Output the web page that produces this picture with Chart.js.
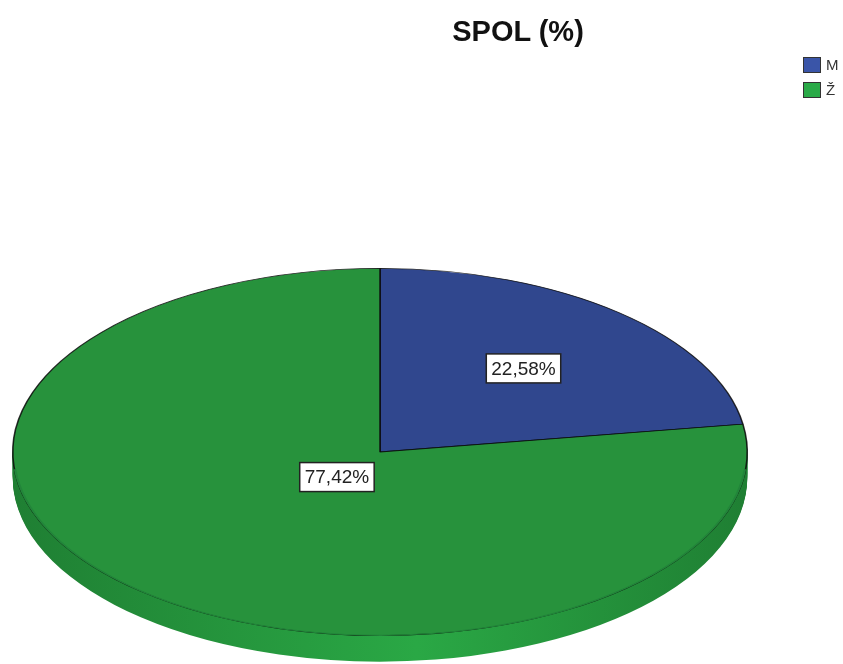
<!DOCTYPE html>
<html>
<head>
<meta charset="utf-8">
<script src="https://cdn.jsdelivr.net/npm/chart.js@4"></script>
<style>
  body { margin: 0; background: #fff; }
  #wrap { position: relative; width: 843px; height: 664px; overflow: hidden; }
  #title {
    position: absolute; left: 418px; width: 200px; top: 17px; text-align: center;
    font: bold 29px "Liberation Sans", Arial, sans-serif; line-height: 29px; color: #111;
  }
  #legend { position: absolute; left: 803px; top: 52px; font: 15px "Liberation Sans", Arial, sans-serif; color: #333; }
  .item { display: flex; align-items: center; height: 25px; }
  .box { width: 16px; height: 14px; border: 1px solid #333; margin-right: 5px; }
</style>
</head>
<body>
<div id="wrap">
  <canvas id="pieChart" width="843" height="664"></canvas>
  <div id="title">SPOL (%)</div>
  <div id="legend"></div>
</div>
<script>
// data
const labels = ["M", "Ž"];
const values = [22.58, 77.42];
const colors = ["#30478e", "#27923c"];
const legendColors = ["#3a55a8", "#2aaa48"];
const sideDark = ["#23356b", "#1f7f33"];
const sideLight = ["#2b3f80", "#2aa845"];

const xStretch = 2.0; // pie is drawn as a circle, then stretched to an ellipse
const depth = 26;

function formatPct(v) {
  return v.toFixed(2).replace(".", ",") + "%";
}

// legend as html
const legendEl = document.getElementById("legend");
labels.forEach((l, i) => {
  const row = document.createElement("div");
  row.className = "item";
  row.innerHTML = `<span class="box" style="background:${legendColors[i]}"></span><span>${l}</span>`;
  legendEl.appendChild(row);
});

function stretch(ctx, arc) {
  ctx.translate(arc.x, arc.y);
  ctx.scale(xStretch, 1);
  ctx.translate(-arc.x, -arc.y);
}

const ellipsePie = {
  id: "ellipsePie",
  beforeDatasetsDraw(chart) {
    const ctx = chart.ctx;
    const arcs = chart.getDatasetMeta(0).data;
    const a0 = arcs[0];
    // side of the disc
    for (let d = depth; d >= 1; d--) {
      ctx.save();
      ctx.translate(0, d);
      stretch(ctx, a0);
      arcs.forEach((arc, i) => {
        const g = ctx.createLinearGradient(a0.x - a0.outerRadius, 0, a0.x + a0.outerRadius, 0);
        g.addColorStop(0, sideDark[i]);
        g.addColorStop(0.55, sideLight[i]);
        g.addColorStop(1, sideDark[i]);
        const saved = { bg: arc.options.backgroundColor, bw: arc.options.borderWidth };
        arc.options.backgroundColor = g;
        arc.options.borderWidth = 0;
        arc.draw(ctx);
        arc.options.backgroundColor = saved.bg;
        arc.options.borderWidth = saved.bw;
      });
      ctx.restore();
    }
    // top face
    ctx.save();
    stretch(ctx, a0);
  },
  afterDatasetsDraw(chart) {
    const ctx = chart.ctx;
    const arcs = chart.getDatasetMeta(0).data;
    const a0 = arcs[0];
    // soften the front rim of the top face
    ctx.beginPath();
    ctx.arc(a0.x, a0.y, a0.outerRadius - 0.3, 0.03 * Math.PI, 0.97 * Math.PI);
    ctx.strokeStyle = "#22853a";
    ctx.lineWidth = 1.2;
    ctx.stroke();
    ctx.restore();

    const frac = [0.6, 0.18];
    ctx.save();
    ctx.font = '19px "Liberation Sans", Arial, sans-serif';
    ctx.textAlign = "center";
    ctx.textBaseline = "middle";
    arcs.forEach((arc, i) => {
      const mid = (arc.startAngle + arc.endAngle) / 2;
      const x = arc.x + xStretch * arc.outerRadius * frac[i] * Math.cos(mid);
      const y = arc.y + arc.outerRadius * frac[i] * Math.sin(mid);
      const text = formatPct(values[i]);
      const w = ctx.measureText(text).width + 10;
      const h = 29;
      ctx.fillStyle = "#fff";
      ctx.fillRect(x - w / 2, y - h / 2, w, h);
      ctx.strokeStyle = "#222";
      ctx.lineWidth = 1.5;
      ctx.strokeRect(x - w / 2, y - h / 2, w, h);
      ctx.fillStyle = "#222";
      ctx.fillText(text, x, y + 1);
    });
    ctx.restore();
  },
};

new Chart(document.getElementById("pieChart"), {
  type: "pie",
  data: {
    labels: labels,
    datasets: [
      {
        data: values,
        backgroundColor: colors,
        borderColor: "rgba(10,10,10,0.85)",
        borderWidth: 0.8,
        clip: false,
      },
    ],
  },
  options: {
    responsive: false,
    animation: false,
    devicePixelRatio: 1,
    layout: {
      padding: { left: 196, right: 279, top: 268, bottom: 28 },
    },
    plugins: {
      legend: { display: false },
      title: { display: false },
      tooltip: { enabled: false },
    },
  },
  plugins: [ellipsePie],
});
</script>
</body>
</html>
